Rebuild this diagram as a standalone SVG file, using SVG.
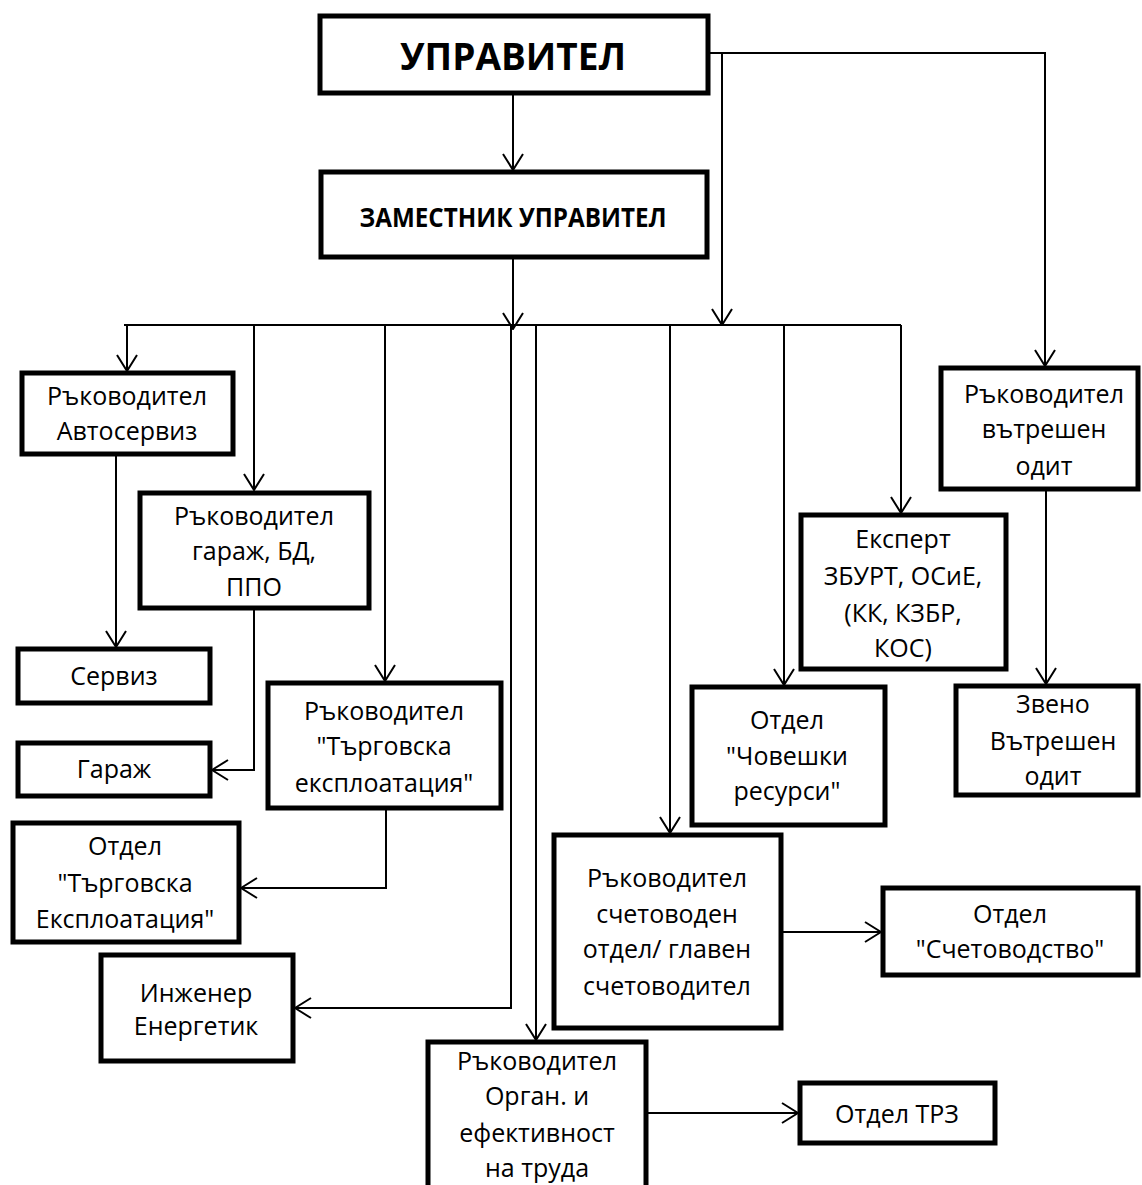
<svg xmlns="http://www.w3.org/2000/svg" width="1142" height="1185" viewBox="0 0 1142 1185">
<style>
.box{fill:#fff;stroke:#000;stroke-width:5}
.t{font-family:"Open Sans","Noto Sans","Liberation Sans",sans-serif;font-size:25px;fill:#000;text-anchor:middle}
.tb{font-family:"Open Sans","Noto Sans","Liberation Sans",sans-serif;font-weight:bold;fill:#000;text-anchor:middle}
.c{fill:none;stroke:#000;stroke-width:2}
</style>
<defs>
<marker id="arr" viewBox="0 0 18 22" refX="17" refY="11" markerWidth="18" markerHeight="22" orient="auto" markerUnits="userSpaceOnUse">
<path d="M1,1 L17,11 L1,21" fill="none" stroke="#000" stroke-width="2"/>
</marker>
</defs>
<rect width="1142" height="1185" fill="#fff"/>
<g id="connectors">
<path class="c" d="M513,93 V170" marker-end="url(#arr)"/>
<path class="c" d="M513,258 V329" marker-end="url(#arr)"/>
<path class="c" d="M708,53 H1045 V366" marker-end="url(#arr)"/>
<path class="c" d="M722,53 V325" marker-end="url(#arr)"/>
<path class="c" d="M124,325 H901"/>
<path class="c" d="M127,325 V371" marker-end="url(#arr)"/>
<path class="c" d="M254,325 V490" marker-end="url(#arr)"/>
<path class="c" d="M385,325 V681" marker-end="url(#arr)"/>
<path class="c" d="M511,325 V1008 H295" marker-end="url(#arr)"/>
<path class="c" d="M536,325 V1040" marker-end="url(#arr)"/>
<path class="c" d="M670,325 V833" marker-end="url(#arr)"/>
<path class="c" d="M784,325 V685" marker-end="url(#arr)"/>
<path class="c" d="M901,325 V513" marker-end="url(#arr)"/>
<path class="c" d="M116,455 V647" marker-end="url(#arr)"/>
<path class="c" d="M254,608 V770 H212" marker-end="url(#arr)"/>
<path class="c" d="M386,808 V888 H241" marker-end="url(#arr)"/>
<path class="c" d="M1046,489 V684" marker-end="url(#arr)"/>
<path class="c" d="M781,932 H881" marker-end="url(#arr)"/>
<path class="c" d="M646,1113 H798" marker-end="url(#arr)"/>
</g>
<g id="upravitel"><rect class="box" x="320" y="16" width="388" height="77"/><text class="tb" x="513" y="70" font-size="37">УПРАВИТЕЛ</text></g>
<g id="zamestnik"><rect class="box" x="321" y="172" width="386" height="85"/><text class="tb" x="513" y="227" font-size="27" textLength="307" lengthAdjust="spacingAndGlyphs">ЗАМЕСТНИК УПРАВИТЕЛ</text></g>
<g id="avtoservis"><rect class="box" x="22" y="373" width="211" height="81"/><text class="t" x="127" y="405">Ръководител</text><text class="t" x="127" y="440">Автосервиз</text></g>
<g id="garazh-r"><rect class="box" x="140" y="493" width="229" height="115"/><text class="t" x="254" y="525">Ръководител</text><text class="t" x="254" y="560">гараж, БД,</text><text class="t" x="254" y="596">ППО</text></g>
<g id="servis"><rect class="box" x="18" y="649" width="192" height="54"/><text class="t" x="114" y="685">Сервиз</text></g>
<g id="garazh"><rect class="box" x="18" y="743" width="192" height="53"/><text class="t" x="114" y="778">Гараж</text></g>
<g id="targ-r"><rect class="box" x="268" y="683" width="233" height="125"/><text class="t" x="384" y="720">Ръководител</text><text class="t" x="384" y="755">"Търговска</text><text class="t" x="384" y="792">експлоатация"</text></g>
<g id="targ-o"><rect class="box" x="13" y="823" width="226" height="119"/><text class="t" x="125" y="855">Отдел</text><text class="t" x="125" y="892">"Търговска</text><text class="t" x="125" y="928">Експлоатация"</text></g>
<g id="inzhener"><rect class="box" x="101" y="955" width="192" height="106"/><text class="t" x="196" y="1002">Инженер</text><text class="t" x="196" y="1035">Енергетик</text></g>
<g id="organ"><rect class="box" x="428" y="1042" width="218" height="150"/><text class="t" x="537" y="1070">Ръководител</text><text class="t" x="537" y="1105">Орган. и</text><text class="t" x="537" y="1142">ефективност</text><text class="t" x="537" y="1177">на труда</text></g>
<g id="schet-r"><rect class="box" x="554" y="835" width="227" height="193"/><text class="t" x="667" y="887">Ръководител</text><text class="t" x="667" y="923">счетоводен</text><text class="t" x="667" y="958">отдел/ главен</text><text class="t" x="667" y="995">счетоводител</text></g>
<g id="schet-o"><rect class="box" x="883" y="888" width="255" height="87"/><text class="t" x="1010" y="923">Отдел</text><text class="t" x="1010" y="958">"Счетоводство"</text></g>
<g id="trz"><rect class="box" x="800" y="1083" width="195" height="60"/><text class="t" x="897" y="1123">Отдел ТРЗ</text></g>
<g id="chovešhki"><rect class="box" x="692" y="687" width="193" height="138"/><text class="t" x="787" y="729">Отдел</text><text class="t" x="787" y="765">"Човешки</text><text class="t" x="787" y="800">ресурси"</text></g>
<g id="ekspert"><rect class="box" x="801" y="515" width="205" height="154"/><text class="t" x="903" y="548">Експерт</text><text class="t" x="903" y="585">ЗБУРТ, ОСиЕ,</text><text class="t" x="903" y="622">(КК, КЗБР,</text><text class="t" x="903" y="657">КОС)</text></g>
<g id="vatr-r"><rect class="box" x="941" y="368" width="197" height="121"/><text class="t" x="1044" y="403">Ръководител</text><text class="t" x="1044" y="438">вътрешен</text><text class="t" x="1044" y="475">одит</text></g>
<g id="zveno"><rect class="box" x="956" y="686" width="182" height="109"/><text class="t" x="1053" y="713">Звено</text><text class="t" x="1053" y="750">Вътрешен</text><text class="t" x="1053" y="785">одит</text></g>
</svg>
